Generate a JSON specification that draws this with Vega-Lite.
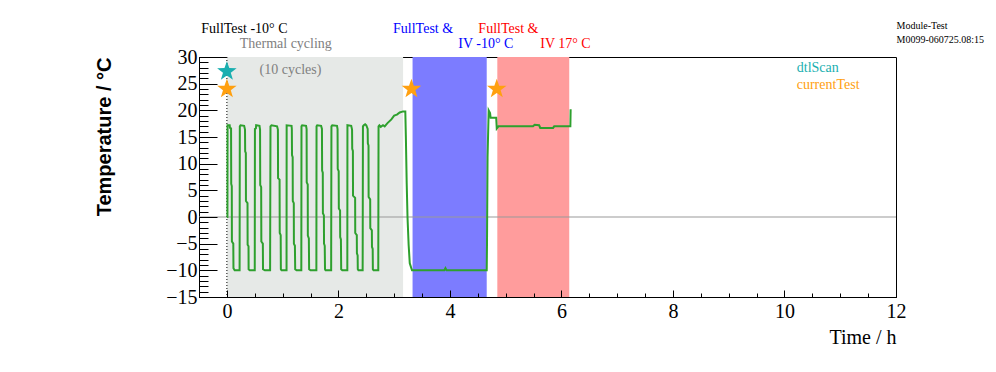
{
  "$schema": "https://vega.github.io/schema/vega-lite/v6.json",
  "width": 697,
  "height": 240,
  "autosize": "none",
  "padding": {"left": 199, "top": 57, "right": 100, "bottom": 75},
  "background": "white",
  "config": {"view": {"stroke": "black", "strokeWidth": 1}, "axis": {"grid": false}},
  "resolve": {"axis": {"x": "independent", "y": "independent"}, "scale": {"color": "independent"}},
  "datasets": {
    "regions": [
      {"start": 0, "end": 3.16, "phase": "cycling"},
      {"start": 3.33, "end": 4.66, "phase": "cold"},
      {"start": 4.85, "end": 6.14, "phase": "warm"}
    ],
    "marker": [
      {"zeroT": 0, "startT": 0}
    ],
    "temp": [
      {"t": 0, "T": 0}, {"t": 0.01, "T": 0}, {"t": 0.012, "T": 17.2}, {"t": 0.05, "T": 17.2}, {"t": 0.055, "T": 16.7}, {"t": 0.075, "T": 16.6}, {"t": 0.078, "T": 6.2}, {"t": 0.088, "T": 5.8}, {"t": 0.09, "T": -4.6}, {"t": 0.115, "T": -5}, {"t": 0.118, "T": -9.6}, {"t": 0.14, "T": -10}, {"t": 0.228, "T": -10},
      {"t": 0.232, "T": 17}, {"t": 0.245, "T": 17.2}, {"t": 0.31, "T": 17.1}, {"t": 0.325, "T": 16.4}, {"t": 0.328, "T": 12.3}, {"t": 0.34, "T": 12}, {"t": 0.342, "T": 3}, {"t": 0.37, "T": 2.6}, {"t": 0.372, "T": -5.2}, {"t": 0.388, "T": -5.5}, {"t": 0.39, "T": -9.8}, {"t": 0.41, "T": -10}, {"t": 0.5, "T": -10},
      {"t": 0.503, "T": 16.5}, {"t": 0.52, "T": 16.6}, {"t": 0.525, "T": 17.2}, {"t": 0.585, "T": 17.1}, {"t": 0.595, "T": 16.4}, {"t": 0.598, "T": 6}, {"t": 0.615, "T": 5.6}, {"t": 0.618, "T": -4.6}, {"t": 0.645, "T": -5}, {"t": 0.648, "T": -9.8}, {"t": 0.68, "T": -10}, {"t": 0.775, "T": -10},
      {"t": 0.782, "T": 17}, {"t": 0.8, "T": 17.2}, {"t": 0.9, "T": 17}, {"t": 0.915, "T": 16.4}, {"t": 0.918, "T": 7.3}, {"t": 0.945, "T": 7}, {"t": 0.948, "T": -3}, {"t": 0.965, "T": -3.4}, {"t": 0.968, "T": -9.8}, {"t": 0.98, "T": -10}, {"t": 1.07, "T": -10},
      {"t": 1.072, "T": 17.2}, {"t": 1.16, "T": 17.1}, {"t": 1.165, "T": 16.5}, {"t": 1.168, "T": 11.6}, {"t": 1.18, "T": 11.2}, {"t": 1.182, "T": 3}, {"t": 1.2, "T": 2.6}, {"t": 1.202, "T": -5}, {"t": 1.22, "T": -5.4}, {"t": 1.225, "T": -9.8}, {"t": 1.25, "T": -10}, {"t": 1.335, "T": -10},
      {"t": 1.338, "T": 17}, {"t": 1.35, "T": 17.2}, {"t": 1.42, "T": 17.1}, {"t": 1.43, "T": 16.5}, {"t": 1.432, "T": 6.5}, {"t": 1.45, "T": 6.1}, {"t": 1.452, "T": -3.5}, {"t": 1.47, "T": -4}, {"t": 1.475, "T": -9.8}, {"t": 1.5, "T": -10}, {"t": 1.605, "T": -10},
      {"t": 1.608, "T": 17}, {"t": 1.62, "T": 17.2}, {"t": 1.69, "T": 17.1}, {"t": 1.705, "T": 16.5}, {"t": 1.708, "T": 8.7}, {"t": 1.72, "T": 8.3}, {"t": 1.722, "T": 0.7}, {"t": 1.74, "T": 0.3}, {"t": 1.742, "T": -5}, {"t": 1.755, "T": -5.4}, {"t": 1.76, "T": -9.8}, {"t": 1.77, "T": -10}, {"t": 1.87, "T": -10},
      {"t": 1.875, "T": 17}, {"t": 1.89, "T": 17.2}, {"t": 1.975, "T": 17.1}, {"t": 1.985, "T": 16.5}, {"t": 1.988, "T": 9}, {"t": 2.005, "T": 8.6}, {"t": 2.008, "T": 1.6}, {"t": 2.03, "T": 1.2}, {"t": 2.032, "T": -3.75}, {"t": 2.045, "T": -4.2}, {"t": 2.05, "T": -9.8}, {"t": 2.07, "T": -10}, {"t": 2.16, "T": -10},
      {"t": 2.162, "T": 17.2}, {"t": 2.23, "T": 17.1}, {"t": 2.245, "T": 16.4}, {"t": 2.248, "T": 12.8}, {"t": 2.26, "T": 12.4}, {"t": 2.262, "T": 4}, {"t": 2.3, "T": 3.6}, {"t": 2.302, "T": -3}, {"t": 2.33, "T": -3.4}, {"t": 2.332, "T": -6.8}, {"t": 2.345, "T": -7.2}, {"t": 2.348, "T": -9.8}, {"t": 2.36, "T": -10}, {"t": 2.435, "T": -10},
      {"t": 2.44, "T": 17}, {"t": 2.455, "T": 17.2}, {"t": 2.48, "T": 17.4}, {"t": 2.5, "T": 17.2}, {"t": 2.525, "T": 16.5}, {"t": 2.528, "T": 13.8}, {"t": 2.54, "T": 13.4}, {"t": 2.542, "T": 3.75}, {"t": 2.57, "T": 3.3}, {"t": 2.572, "T": -2.1}, {"t": 2.6, "T": -2.5}, {"t": 2.602, "T": -5.6}, {"t": 2.615, "T": -6}, {"t": 2.618, "T": -9.8}, {"t": 2.63, "T": -10}, {"t": 2.715, "T": -10},
      {"t": 2.72, "T": 17}, {"t": 2.735, "T": 17.2}, {"t": 2.76, "T": 16.9}, {"t": 2.8, "T": 17.2}, {"t": 2.83, "T": 17}, {"t": 2.88, "T": 17.6}, {"t": 2.95, "T": 18.3}, {"t": 3.0, "T": 19}, {"t": 3.05, "T": 19.2}, {"t": 3.1, "T": 19.6}, {"t": 3.16, "T": 19.8}, {"t": 3.2, "T": 19.8},
      {"t": 3.21, "T": 15}, {"t": 3.225, "T": 6.3}, {"t": 3.24, "T": -0.2}, {"t": 3.26, "T": -5.3}, {"t": 3.28, "T": -8.7}, {"t": 3.32, "T": -10}, {"t": 3.9, "T": -10}, {"t": 3.92, "T": -9.6}, {"t": 3.94, "T": -10}, {"t": 4.66, "T": -10},
      {"t": 4.665, "T": -5}, {"t": 4.675, "T": 11.2}, {"t": 4.695, "T": 20}, {"t": 4.72, "T": 19.5}, {"t": 4.73, "T": 18.6}, {"t": 4.83, "T": 18.6}, {"t": 4.84, "T": 16.6}, {"t": 4.87, "T": 17}, {"t": 5.49, "T": 17}, {"t": 5.52, "T": 17.3}, {"t": 5.6, "T": 17.2}, {"t": 5.62, "T": 16.7}, {"t": 5.85, "T": 16.7}, {"t": 5.87, "T": 17}, {"t": 6.16, "T": 17}, {"t": 6.165, "T": 20.2}
    ],
    "stars": [
      {"t": 0.0, "T": 27.3, "kind": "dtlScan"},
      {"t": 0.0, "T": 24.0, "kind": "currentTest"},
      {"t": 3.31, "T": 24.0, "kind": "currentTest"},
      {"t": 4.84, "T": 24.0, "kind": "currentTest"}
    ],
    "notes": [
      {"x": -0.46, "y": 34.58, "label": "FullTest -10° C", "grp": "title"},
      {"x": 0.23, "y": 31.76, "label": "Thermal cycling", "grp": "cycling"},
      {"x": 0.587, "y": 26.9, "label": "(10 cycles)", "grp": "cycling"},
      {"x": 2.98, "y": 34.58, "label": "FullTest &", "grp": "cold"},
      {"x": 4.15, "y": 31.76, "label": "IV -10° C", "grp": "cold"},
      {"x": 4.51, "y": 34.58, "label": "FullTest &", "grp": "warm"},
      {"x": 5.62, "y": 31.76, "label": "IV 17° C", "grp": "warm"},
      {"x": 10.22, "y": 27.1, "label": "dtlScan", "grp": "dtlScan"},
      {"x": 10.22, "y": 23.95, "label": "currentTest", "grp": "currentTest"}
    ],
    "stamp": [
      {"x": 12.01, "y": 35.2, "label": "Module-Test"},
      {"x": 12.01, "y": 32.7, "label": "M0099-060725.08:15"}
    ]
  },
  "layer": [
    {
      "data": {"name": "regions"},
      "mark": {"type": "rect"},
      "encoding": {
        "x": {"field": "start", "type": "quantitative", "scale": {"domain": [-0.5, 12], "nice": false, "zero": false}, "axis": null},
        "x2": {"field": "end"},
        "y": {"datum": -15, "type": "quantitative", "scale": {"domain": [-15, 30], "nice": false, "zero": false}, "axis": null},
        "y2": {"datum": 30},
        "color": {"field": "phase", "type": "nominal", "scale": {"domain": ["cycling", "cold", "warm"], "range": ["#e6e9e7", "#7c7cff", "#ff9c9c"]}, "legend": null}
      }
    },
    {
      "data": {"name": "marker"},
      "mark": {"type": "rule", "color": "#999999", "strokeWidth": 1},
      "encoding": {
        "y": {"field": "zeroT", "type": "quantitative", "scale": {"domain": [-15, 30], "nice": false, "zero": false}, "axis": null}
      }
    },
    {
      "data": {"name": "marker"},
      "mark": {"type": "rule", "color": "black", "strokeWidth": 1, "strokeDash": [1, 2]},
      "encoding": {
        "x": {"field": "startT", "type": "quantitative", "scale": {"domain": [-0.5, 12], "nice": false, "zero": false}, "axis": null}
      }
    },
    {
      "data": {"name": "temp"},
      "mark": {"type": "line", "color": "#2ea02e", "strokeWidth": 2},
      "encoding": {
        "x": {"field": "t", "type": "quantitative", "scale": {"domain": [-0.5, 12], "nice": false, "zero": false},
          "axis": {"orient": "bottom", "values": [0, 2, 4, 6, 8, 10, 12], "ticks": false, "domain": true, "domainColor": "black", "domainWidth": 1,
            "labelFont": "Liberation Serif", "labelFontSize": 20, "labelColor": "black", "labelPadding": 4, "labelFlush": false, "labelOverlap": false,
            "title": "Time / h", "titleFont": "Liberation Serif", "titleFontSize": 20, "titleFontWeight": "normal", "titleColor": "black",
            "titleX": 697, "titleY": 46, "titleAlign": "right", "titleBaseline": "alphabetic", "grid": false}},
        "y": {"field": "T", "type": "quantitative", "scale": {"domain": [-15, 30], "nice": false, "zero": false},
          "axis": {"orient": "left", "values": [-15, -10, -5, 0, 5, 10, 15, 20, 25, 30], "ticks": false, "domain": true, "domainColor": "black", "domainWidth": 1,
            "labelFont": "Liberation Serif", "labelFontSize": 20, "labelColor": "black", "labelPadding": 2, "labelFlush": false, "labelOverlap": false,
            "title": "Temperature / °C", "titleFont": "Liberation Sans", "titleFontSize": 20, "titleFontWeight": "bold", "titleColor": "black",
            "titleX": -89, "titleY": 0, "titleAngle": -90, "titleAlign": "right", "titleBaseline": "alphabetic", "grid": false}},
        "order": {"value": null}
      }
    },
    {
      "data": {"name": "stars"},
      "mark": {"type": "point", "filled": true, "opacity": 1, "size": 420, "shape": "M0,-1 L0.235,-0.324 L0.951,-0.309 L0.38,0.124 L0.588,0.809 L0,0.4 L-0.588,0.809 L-0.38,0.124 L-0.951,-0.309 L-0.235,-0.324 Z"},
      "encoding": {
        "x": {"field": "t", "type": "quantitative", "scale": {"domain": [-0.5, 12], "nice": false, "zero": false},
          "axis": {"orient": "bottom", "values": [0, 2, 4, 6, 8, 10, 12], "tickSize": -7, "tickColor": "black", "tickWidth": 1, "labels": false, "domain": false, "title": null, "grid": false, "zindex": 1}},
        "y": {"field": "T", "type": "quantitative", "scale": {"domain": [-15, 30], "nice": false, "zero": false},
          "axis": {"orient": "left", "values": [-15, -10, -5, 0, 5, 10, 15, 20, 25, 30], "tickSize": -18, "tickColor": "black", "tickWidth": 1, "labels": false, "domain": false, "title": null, "grid": false, "zindex": 1}},
        "color": {"field": "kind", "type": "nominal", "scale": {"domain": ["dtlScan", "currentTest"], "range": ["#1aafb0", "#ffa010"]}, "legend": null}
      }
    },
    {
      "data": {"name": "notes"},
      "mark": {"type": "text", "font": "Liberation Serif", "fontSize": 14, "align": "left", "baseline": "alphabetic"},
      "encoding": {
        "x": {"field": "x", "type": "quantitative", "scale": {"domain": [-0.5, 12], "nice": false, "zero": false},
          "axis": {"orient": "bottom", "values": [-0.5, 0, 0.5, 1, 1.5, 2, 2.5, 3, 3.5, 4, 4.5, 5, 5.5, 6, 6.5, 7, 7.5, 8, 8.5, 9, 9.5, 10, 10.5, 11, 11.5, 12], "tickSize": -4, "tickColor": "black", "tickWidth": 1, "labels": false, "domain": false, "title": null, "grid": false, "zindex": 1}},
        "y": {"field": "y", "type": "quantitative", "scale": {"domain": [-15, 30], "nice": false, "zero": false},
          "axis": {"orient": "left", "values": [-15, -14, -13, -12, -11, -10, -9, -8, -7, -6, -5, -4, -3, -2, -1, 0, 1, 2, 3, 4, 5, 6, 7, 8, 9, 10, 11, 12, 13, 14, 15, 16, 17, 18, 19, 20, 21, 22, 23, 24, 25, 26, 27, 28, 29, 30], "tickSize": -9, "tickColor": "black", "tickWidth": 1, "labels": false, "domain": false, "title": null, "grid": false, "zindex": 1}},
        "text": {"field": "label"},
        "color": {"field": "grp", "type": "nominal", "scale": {"domain": ["title", "cycling", "cold", "warm", "dtlScan", "currentTest"], "range": ["#000000", "#808080", "#0000ff", "#ff0000", "#1aafb0", "#ffa010"]}, "legend": null}
      }
    },
    {
      "data": {"name": "stamp"},
      "mark": {"type": "text", "font": "Liberation Serif", "fontSize": 10, "align": "left", "baseline": "alphabetic", "color": "black"},
      "encoding": {
        "x": {"field": "x", "type": "quantitative", "scale": {"domain": [-0.5, 12], "nice": false, "zero": false}, "axis": null},
        "y": {"field": "y", "type": "quantitative", "scale": {"domain": [-15, 30], "nice": false, "zero": false}, "axis": null},
        "text": {"field": "label"}
      }
    }
  ]
}
